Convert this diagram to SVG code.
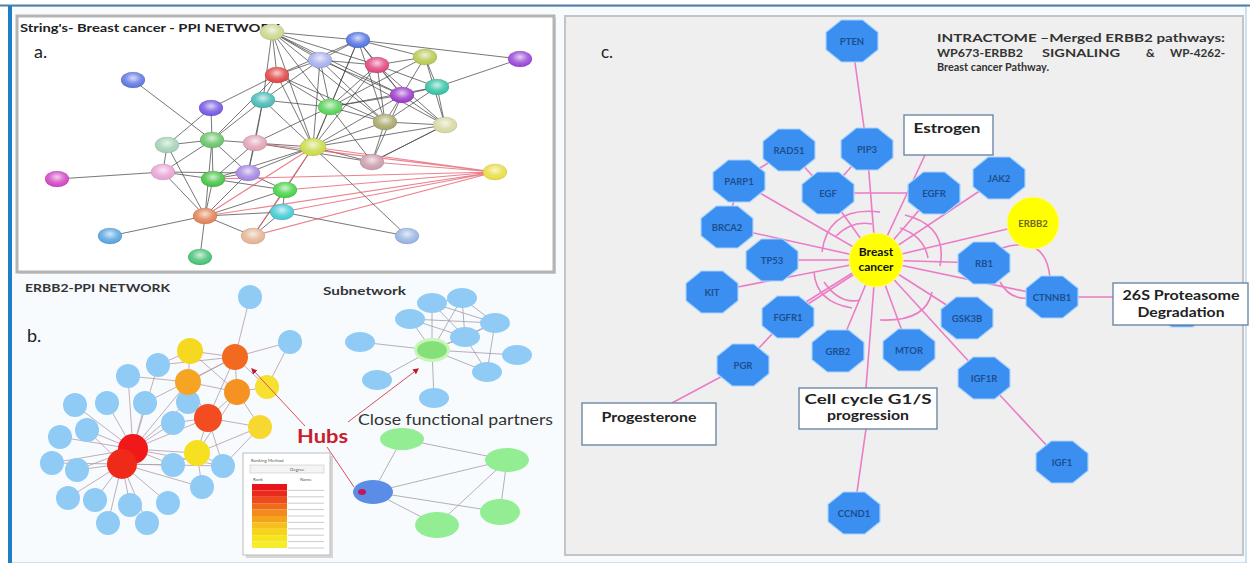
<svg xmlns="http://www.w3.org/2000/svg" xmlns:xlink="http://www.w3.org/1999/xlink" width="1250" height="563" viewBox="0 0 1250 563">
<style>
.t{font-family:Lato,"Open Sans","Liberation Sans",sans-serif}
.sn ellipse.c{stroke:#000;stroke-opacity:.15;stroke-width:.6}
.gl{fill:url(#gloss)}
.ge{stroke:#4a4a4a;stroke-width:1;stroke-opacity:.75;fill:none}
.re{stroke:#e45a6a;stroke-width:1.2;stroke-opacity:.75;fill:none}
.be{stroke:#b49aa4;stroke-width:.8;fill:none}
.se{stroke:#a49aa8;stroke-width:.8;fill:none}
.bn{fill:#8fcbf4}
.sb{fill:#8fcbf4}
.gn{fill:#93ee93}
.ce{stroke:#ec7cc5;stroke-width:1.6;fill:none}
.cn use{fill:#3a8ff0;stroke:#a9d4ff;stroke-width:1.2}
.cn text{font:bold 9.5px Lato,"Liberation Sans",sans-serif;fill:#1d4e8f;text-anchor:middle}
.yb{fill:#ffff00;stroke:#fff7a0;stroke-width:1}
.box{fill:#fff;stroke:#60809f;stroke-width:1.3}
.bt{font:bold 13px Lato,"Liberation Sans",sans-serif;fill:#222;text-anchor:middle}
.arr{stroke:#d9505a;stroke-width:1;fill:none}
.ti{font:bold 12px Lato,"Liberation Sans",sans-serif;fill:#333}
</style>
<defs>
<radialGradient id="gloss" cx="50%" cy="38%" r="60%">
<stop offset="0" stop-color="#fff" stop-opacity=".75"/>
<stop offset=".55" stop-color="#fff" stop-opacity=".2"/>
<stop offset="1" stop-color="#fff" stop-opacity="0"/>
</radialGradient>
<polygon id="oct" points="-10.8,-21 10.8,-21 26,-8.7 26,8.7 10.8,21 -10.8,21 -26,8.7 -26,-8.7"/>
<marker id="ah" viewBox="0 0 10 10" refX="8" refY="5" markerWidth="6" markerHeight="6" orient="auto">
<path d="M0,0 L10,5 L0,10 z" fill="#c0182a"/>
</marker>
</defs>

<!-- page frame -->
<rect x="0" y="0" width="1250" height="563" fill="#fff"/>
<rect x="10" y="6" width="1236" height="557" fill="#f7fbfe" stroke="#9fc3dd" stroke-width="1"/>
<line x1="0" y1="5.5" x2="1250" y2="5.5" stroke="#4f7ea9" stroke-width="2"/>
<rect x="8" y="6" width="4" height="557" fill="#1e7fc5"/>

<!-- panel a : STRING network -->
<g id="panel-a">
<rect x="19" y="18" width="537" height="256" fill="#d8d8d8"/>
<rect x="17" y="16" width="537" height="256" fill="#fff" stroke="#b4b4b4" stroke-width="3"/>
<text class="t" x="20" y="32" font-size="12" font-weight="bold" fill="#222" textLength="260" lengthAdjust="spacingAndGlyphs">String's- Breast cancer - PPI NETWORK</text>
<text class="t" x="34" y="58" font-size="18" fill="#222">a.</text>
</g>

<g id="edges-a">
<path class="ge" d="M272,32L358,40M272,32L320,60M272,32L277,75M272,32L377,65M272,32L402,95M272,32L330,107M272,32L385,122M272,32L263,100M272,32L313,147M272,32L445,125
M358,40L320,60M358,40L377,65M358,40L425,57M358,40L277,75M358,40L330,107M358,40L385,122M358,40L313,147M358,40L402,95M358,40L520,59
M320,60L377,65M320,60L277,75M320,60L330,107M320,60L385,122M320,60L313,147M320,60L263,100M320,60L402,95
M377,65L425,57M377,65L437,87M377,65L402,95M377,65L330,107M377,65L385,122M377,65L445,125M377,65L313,147
M425,57L437,87M425,57L402,95M425,57L445,125M425,57L330,107M520,59L437,87
M277,75L330,107M277,75L263,100M277,75L313,147M277,75L385,122M277,75L212,140M277,75L211,108
M437,87L402,95M437,87L445,125M437,87L385,122M437,87L330,107
M402,95L330,107M402,95L385,122M402,95L445,125M402,95L313,147M402,95L372,162
M330,107L385,122M330,107L313,147M330,107L263,100M330,107L372,162M330,107L255,143
M385,122L445,125M385,122L313,147M385,122L372,162M445,125L313,147M445,125L372,162
M133,80L212,140M211,108L167,145M211,108L212,140
M263,100L212,140M263,100L255,143M263,100L313,147M263,100L248,173
M167,145L212,140M167,145L163,172M167,145L205,216M212,140L255,143M212,140L213,179M212,140L163,172M212,140L205,216M212,140L248,173
M255,143L313,147M255,143L248,173M255,143L213,179M255,143L372,162M57,179L163,172
M163,172L213,179M163,172L205,216M163,172L248,173M213,179L248,173M213,179L205,216M213,179L285,190M213,179L313,147
M248,173L285,190M248,173L313,147M248,173L205,216M285,190L205,216M285,190L282,212M285,190L313,147
M205,216L282,212M205,216L253,236M205,216L110,236M205,216L200,257M282,212L253,236M282,212L407,236M253,236L285,190
M313,147L372,162M313,147L407,236M445,125L372,162"/>
<path class="re" d="M495,172L313,147M495,172L316,150M495,172L372,162M495,172L285,190M495,172L282,212M495,172L253,236M495,172L205,216M495,172L213,179M495,172L255,143M313,147L205,216M313,147L253,236"/>
</g>

<g id="nodes-a" class="sn">
<g id="a01"><ellipse class="c" cx="272" cy="32" rx="12" ry="8" fill="#c7d68a"/><ellipse class="gl" cx="272" cy="32" rx="12" ry="8"/></g>
<g id="a02"><ellipse class="c" cx="358" cy="40" rx="12" ry="8" fill="#4f6fe0"/><ellipse class="gl" cx="358" cy="40" rx="12" ry="8"/></g>
<g id="a03"><ellipse class="c" cx="320" cy="60" rx="12" ry="8" fill="#a4acec"/><ellipse class="gl" cx="320" cy="60" rx="12" ry="8"/></g>
<g id="a04"><ellipse class="c" cx="377" cy="65" rx="12" ry="8" fill="#e0407e"/><ellipse class="gl" cx="377" cy="65" rx="12" ry="8"/></g>
<g id="a05"><ellipse class="c" cx="425" cy="57" rx="12" ry="8" fill="#b6c84c"/><ellipse class="gl" cx="425" cy="57" rx="12" ry="8"/></g>
<g id="a06"><ellipse class="c" cx="520" cy="59" rx="12" ry="8" fill="#9442d6"/><ellipse class="gl" cx="520" cy="59" rx="12" ry="8"/></g>
<g id="a07"><ellipse class="c" cx="277" cy="75" rx="12" ry="8" fill="#e04040"/><ellipse class="gl" cx="277" cy="75" rx="12" ry="8"/></g>
<g id="a08"><ellipse class="c" cx="437" cy="87" rx="12" ry="8" fill="#2fc0a0"/><ellipse class="gl" cx="437" cy="87" rx="12" ry="8"/></g>
<g id="a09"><ellipse class="c" cx="402" cy="95" rx="12" ry="8" fill="#9a34c8"/><ellipse class="gl" cx="402" cy="95" rx="12" ry="8"/></g>
<g id="a10"><ellipse class="c" cx="330" cy="107" rx="12" ry="8" fill="#52d052"/><ellipse class="gl" cx="330" cy="107" rx="12" ry="8"/></g>
<g id="a11"><ellipse class="c" cx="385" cy="122" rx="12" ry="8" fill="#a6a466"/><ellipse class="gl" cx="385" cy="122" rx="12" ry="8"/></g>
<g id="a12"><ellipse class="c" cx="445" cy="125" rx="12" ry="8" fill="#d6d6a0"/><ellipse class="gl" cx="445" cy="125" rx="12" ry="8"/></g>
<g id="a13"><ellipse class="c" cx="133" cy="80" rx="12" ry="8" fill="#5a72e0"/><ellipse class="gl" cx="133" cy="80" rx="12" ry="8"/></g>
<g id="a14"><ellipse class="c" cx="211" cy="108" rx="12" ry="8" fill="#7052e2"/><ellipse class="gl" cx="211" cy="108" rx="12" ry="8"/></g>
<g id="a15"><ellipse class="c" cx="263" cy="100" rx="12" ry="8" fill="#3fb8b0"/><ellipse class="gl" cx="263" cy="100" rx="12" ry="8"/></g>
<g id="a16"><ellipse class="c" cx="167" cy="145" rx="12" ry="8" fill="#9fd0b2"/><ellipse class="gl" cx="167" cy="145" rx="12" ry="8"/></g>
<g id="a17"><ellipse class="c" cx="212" cy="140" rx="12" ry="8" fill="#62c262"/><ellipse class="gl" cx="212" cy="140" rx="12" ry="8"/></g>
<g id="a18"><ellipse class="c" cx="255" cy="143" rx="12" ry="8" fill="#e0a0b2"/><ellipse class="gl" cx="255" cy="143" rx="12" ry="8"/></g>
<g id="a19"><ellipse class="c" cx="57" cy="179" rx="12" ry="8" fill="#d040c0"/><ellipse class="gl" cx="57" cy="179" rx="12" ry="8"/></g>
<g id="a20"><ellipse class="c" cx="163" cy="172" rx="12" ry="8" fill="#e8a0d4"/><ellipse class="gl" cx="163" cy="172" rx="12" ry="8"/></g>
<g id="a21"><ellipse class="c" cx="213" cy="179" rx="12" ry="8" fill="#40c040"/><ellipse class="gl" cx="213" cy="179" rx="12" ry="8"/></g>
<g id="a22"><ellipse class="c" cx="248" cy="173" rx="12" ry="8" fill="#a282e2"/><ellipse class="gl" cx="248" cy="173" rx="12" ry="8"/></g>
<g id="a23"><ellipse class="c" cx="285" cy="190" rx="12" ry="8" fill="#40d040"/><ellipse class="gl" cx="285" cy="190" rx="12" ry="8"/></g>
<g id="a24"><ellipse class="c" cx="205" cy="216" rx="12" ry="8" fill="#e07e50"/><ellipse class="gl" cx="205" cy="216" rx="12" ry="8"/></g>
<g id="a25"><ellipse class="c" cx="282" cy="212" rx="12" ry="8" fill="#40c8d4"/><ellipse class="gl" cx="282" cy="212" rx="12" ry="8"/></g>
<g id="a26"><ellipse class="c" cx="253" cy="236" rx="12" ry="8" fill="#e2b290"/><ellipse class="gl" cx="253" cy="236" rx="12" ry="8"/></g>
<g id="a27"><ellipse class="c" cx="110" cy="236" rx="12" ry="8" fill="#52a2e0"/><ellipse class="gl" cx="110" cy="236" rx="12" ry="8"/></g>
<g id="a28"><ellipse class="c" cx="200" cy="257" rx="12" ry="8" fill="#40c070"/><ellipse class="gl" cx="200" cy="257" rx="12" ry="8"/></g>
<g id="a29"><ellipse class="c" cx="313" cy="147" rx="13" ry="9" fill="#c8d840"/><ellipse class="gl" cx="313" cy="147" rx="13" ry="9"/></g>
<g id="a30"><ellipse class="c" cx="372" cy="162" rx="12" ry="8" fill="#c89aa8"/><ellipse class="gl" cx="372" cy="162" rx="12" ry="8"/></g>
<g id="a31"><ellipse class="c" cx="495" cy="172" rx="12" ry="8" fill="#e8dc3c"/><ellipse class="gl" cx="495" cy="172" rx="12" ry="8"/></g>
<g id="a32"><ellipse class="c" cx="407" cy="236" rx="12" ry="8" fill="#94b2e0"/><ellipse class="gl" cx="407" cy="236" rx="12" ry="8"/></g>
</g>

<!-- panel b : ERBB2 PPI network and subnetworks -->
<g id="panel-b-text">
<text class="t" x="25" y="292" font-size="11" font-weight="bold" fill="#333" textLength="145" lengthAdjust="spacingAndGlyphs">ERBB2-PPI NETWORK</text>
<text class="t" x="27" y="342" font-size="18" fill="#222">b.</text>
<text class="t" x="323" y="295" font-size="11" font-weight="bold" fill="#333" textLength="83" lengthAdjust="spacingAndGlyphs">Subnetwork</text>
<text class="t" x="358" y="425" font-size="15" fill="#333" textLength="195" lengthAdjust="spacingAndGlyphs">Close functional partners</text>
<text class="t" x="297" y="443" font-size="19" font-weight="bold" fill="#c8202a" textLength="51" lengthAdjust="spacingAndGlyphs">Hubs</text>
</g>

<g id="edges-b">
<path class="be" d="M133,449L158,365M133,449L128,376M133,449L75,405M133,449L107,403M133,449L145,403M133,449L188,402M133,449L173,423M133,449L87,430M133,449L60,437M133,449L52,463M133,449L77,470M133,449L173,465M133,449L223,466M133,449L197,453M133,449L208,418
M122,464L68,498M122,464L95,500M122,464L130,505M122,464L168,503M122,464L108,523M122,464L147,523M122,464L77,470M122,464L173,465M122,464L202,487M122,464L52,463M122,464L87,430M122,464L223,466
M235,357L250,297M235,357L290,342M235,357L190,351M235,357L188,382M235,357L237,392M235,357L267,387M235,357L158,365M235,357L208,418M235,357L145,403
M190,351L158,365M190,351L188,382M190,351L237,392M188,382L237,392M188,382L128,376M188,382L208,418M188,382L133,449
M237,392L267,387M237,392L208,418M237,392L260,427M237,392L197,453M267,387L290,342M208,418L260,427M208,418L197,453M208,418L173,423M208,418L223,466
M260,427L197,453M197,453L223,466M197,453L202,487M197,453L173,465M260,427L223,466"/>
<path class="se" d="M432,350L432,303M432,350L462,298M432,350L410,319M432,350L495,323M432,350L465,337M432,350L360,342M432,350L517,355M432,350L487,372M432,350L377,380M432,350L434,398
M432,303L462,298M432,303L495,323M462,298L495,323M462,298L465,337M410,319L495,323M465,337L495,323M495,323L487,372M465,337L487,372M432,303L465,337M410,319L465,337"/>
<path class="se" d="M373,492L402,439M373,492L507,460M373,492L500,512M373,492L437,525M402,439L507,460M507,460L437,525M507,460L500,512"/>
</g>

<g id="nodes-b">
<g id="b01"><circle class="bn" cx="250" cy="297" r="12"/></g>
<g id="b02"><circle class="bn" cx="158" cy="365" r="12"/></g>
<g id="b03"><circle class="bn" cx="128" cy="376" r="12"/></g>
<g id="b04"><circle class="bn" cx="75" cy="405" r="12"/></g>
<g id="b05"><circle class="bn" cx="107" cy="403" r="12"/></g>
<g id="b06"><circle class="bn" cx="145" cy="403" r="12"/></g>
<g id="b07"><circle class="bn" cx="188" cy="402" r="12"/></g>
<g id="b08"><circle class="bn" cx="173" cy="423" r="12"/></g>
<g id="b09"><circle class="bn" cx="87" cy="430" r="12"/></g>
<g id="b10"><circle class="bn" cx="60" cy="437" r="12"/></g>
<g id="b11"><circle class="bn" cx="52" cy="463" r="12"/></g>
<g id="b12"><circle class="bn" cx="77" cy="470" r="12"/></g>
<g id="b13"><circle class="bn" cx="173" cy="465" r="12"/></g>
<g id="b14"><circle class="bn" cx="223" cy="466" r="12"/></g>
<g id="b15"><circle class="bn" cx="202" cy="487" r="12"/></g>
<g id="b16"><circle class="bn" cx="68" cy="498" r="12"/></g>
<g id="b17"><circle class="bn" cx="95" cy="500" r="12"/></g>
<g id="b18"><circle class="bn" cx="130" cy="505" r="12"/></g>
<g id="b19"><circle class="bn" cx="168" cy="503" r="12"/></g>
<g id="b20"><circle class="bn" cx="108" cy="523" r="12"/></g>
<g id="b21"><circle class="bn" cx="147" cy="523" r="12"/></g>
<g id="b22"><circle class="bn" cx="290" cy="342" r="12"/></g>
<g id="h01"><circle cx="190" cy="351" r="13" fill="#f6d820"/></g>
<g id="h02"><circle cx="235" cy="357" r="13" fill="#f26a20"/></g>
<g id="h03"><circle cx="188" cy="382" r="13" fill="#f5a424"/></g>
<g id="h04"><circle cx="237" cy="392" r="13" fill="#f59222"/></g>
<g id="h05"><circle cx="267" cy="387" r="12" fill="#f6e030"/></g>
<g id="h06"><circle cx="208" cy="418" r="14" fill="#f24c20"/></g>
<g id="h07"><circle cx="260" cy="427" r="12" fill="#f6d830"/></g>
<g id="h08"><circle cx="197" cy="453" r="13" fill="#f6e020"/></g>
<g id="h09"><circle cx="133" cy="449" r="15" fill="#f01818"/></g>
<g id="h10"><circle cx="122" cy="464" r="15" fill="#f02a18"/></g>

<g id="s00"><ellipse cx="432" cy="350" rx="18" ry="12" fill="#c8f5b8"/><ellipse cx="432" cy="350" rx="15" ry="9" fill="#86e07a"/></g>
<g id="s01"><ellipse class="sb" cx="432" cy="303" rx="15" ry="10"/></g>
<g id="s02"><ellipse class="sb" cx="462" cy="298" rx="15" ry="10"/></g>
<g id="s03"><ellipse class="sb" cx="410" cy="319" rx="15" ry="10"/></g>
<g id="s04"><ellipse class="sb" cx="495" cy="323" rx="15" ry="10"/></g>
<g id="s05"><ellipse class="sb" cx="465" cy="337" rx="15" ry="10"/></g>
<g id="s06"><ellipse class="sb" cx="360" cy="342" rx="15" ry="10"/></g>
<g id="s07"><ellipse class="sb" cx="517" cy="355" rx="15" ry="10"/></g>
<g id="s08"><ellipse class="sb" cx="487" cy="372" rx="15" ry="10"/></g>
<g id="s09"><ellipse class="sb" cx="377" cy="380" rx="15" ry="10"/></g>
<g id="s10"><ellipse class="sb" cx="434" cy="398" rx="15" ry="10"/></g>

<g id="p00"><ellipse cx="373" cy="492" rx="20" ry="12" fill="#5b8de6"/><ellipse cx="362" cy="492" rx="4" ry="3" fill="#c0185a"/></g>
<g id="p01"><ellipse class="gn" cx="402" cy="439" rx="22" ry="11"/></g>
<g id="p02"><ellipse class="gn" cx="507" cy="460" rx="22" ry="12"/></g>
<g id="p03"><ellipse class="gn" cx="500" cy="512" rx="20" ry="13"/></g>
<g id="p04"><ellipse class="gn" cx="437" cy="525" rx="22" ry="13"/></g>
</g>

<g id="hub-pointers">
<path class="arr" d="M305,426L252,369" marker-end="url(#ah)"/>
<path class="arr" d="M348,422L418,369" marker-end="url(#ah)"/>
<path class="arr" d="M327,447L354,487"/>
</g>

<!-- ranking legend -->
<g id="legend">
<rect x="246" y="456" width="87" height="102" fill="#d6d6d6"/>
<rect x="243" y="453" width="87" height="102" fill="#fff" stroke="#bcbcbc" stroke-width="1"/>
<text class="t" x="251" y="462" font-size="4.5" fill="#555">Ranking Method</text>
<rect x="250" y="465" width="74" height="8" fill="#f4f4f4" stroke="#bbb" stroke-width=".5"/>
<text class="t" x="290" y="471" font-size="4.5" fill="#555">Degree</text>
<text class="t" x="253" y="481" font-size="4.5" fill="#555">Rank</text>
<text class="t" x="300" y="481" font-size="4.5" fill="#555">Name</text>
<rect x="252" y="484" width="35" height="6.4" fill="#e8141c"/>
<rect x="252" y="490.4" width="35" height="6.4" fill="#ea2a1c"/>
<rect x="252" y="496.8" width="35" height="6.4" fill="#ee4a1c"/>
<rect x="252" y="503.2" width="35" height="6.4" fill="#f06a1c"/>
<rect x="252" y="509.6" width="35" height="6.4" fill="#f28a1c"/>
<rect x="252" y="516" width="35" height="6.4" fill="#f4a41c"/>
<rect x="252" y="522.4" width="35" height="6.4" fill="#f6c01c"/>
<rect x="252" y="528.8" width="35" height="6.4" fill="#f6d41c"/>
<rect x="252" y="535.2" width="35" height="6.4" fill="#f6e41c"/>
<rect x="252" y="541.6" width="35" height="6.4" fill="#f6ec2c"/>
<path d="M288,490.4H324M288,496.8H324M288,503.2H324M288,509.6H324M288,516H324M288,522.4H324M288,528.8H324M288,535.2H324M288,541.6H324M288,548H324" stroke="#999" stroke-width=".5"/>
</g>

<!-- panel c : merged ERBB2 pathway network -->
<g id="panel-c">
<rect x="565" y="16" width="678" height="539" fill="#efefef" stroke="#c4c4c4" stroke-width="2"/>
<text class="t" x="601" y="58" font-size="17" fill="#222">c.</text>
<text class="ti" x="937" y="42" textLength="288" lengthAdjust="spacingAndGlyphs">INTRACTOME –Merged ERBB2 pathways:</text>
<text class="ti" y="57"><tspan x="937" textLength="86" lengthAdjust="spacingAndGlyphs">WP673-ERBB2</tspan><tspan x="1042" textLength="78" lengthAdjust="spacingAndGlyphs">SIGNALING</tspan><tspan x="1146">&amp;</tspan><tspan x="1170" textLength="55" lengthAdjust="spacingAndGlyphs">WP-4262-</tspan></text>
<text class="ti" x="937" y="71" textLength="112" lengthAdjust="spacingAndGlyphs">Breast cancer Pathway.</text>
</g>

<g id="edges-c">
<path class="ce" d="M852,41L867,149M867,149L876,260M867,149L828,193M789,150L828,193M739,181L789,150M739,181L876,260M727,227L739,181M727,227L876,260M772,260L876,260M712,292L876,260M788,317L876,260M790,312L870,262M788,317L743,365M743,365L672,403
M828,193L876,260M828,193L934,193M925,155L876,260M934,193L876,260M999,178L876,260M1033,223L876,260M984,263L876,260M1052,297L876,260M1052,297L1113,297M967,318L876,260M909,350L876,260M984,378L876,260M984,378L1062,462M838,351L876,260M874,285L866,388M866,429L854,513"/>
<path class="ce" d="M822,252Q828,206 880,212M905,215Q948,226 940,266M932,292Q926,322 880,320M852,308Q816,302 814,272M836,236Q852,220 872,224M900,228Q924,236 928,258M1002,248Q1046,234 1050,278M1000,282Q1010,300 1028,298M824,282Q840,305 860,300"/>
</g>

<g id="nodes-c">
<g id="n-26s-hidden" class="cn"><use href="#oct" x="1182" y="306"/></g>
<g id="n-pten" class="cn"><use href="#oct" x="852" y="41"/><text x="852" y="44.5">PTEN</text></g>
<g id="n-rad51" class="cn"><use href="#oct" x="789" y="150"/><text x="789" y="153.5">RAD51</text></g>
<g id="n-pip3" class="cn"><use href="#oct" x="867" y="149"/><text x="867" y="152.5">PIP3</text></g>
<g id="n-parp1" class="cn"><use href="#oct" x="739" y="181"/><text x="739" y="184.5">PARP1</text></g>
<g id="n-egf" class="cn"><use href="#oct" x="828" y="193"/><text x="828" y="196.5">EGF</text></g>
<g id="n-egfr" class="cn"><use href="#oct" x="934" y="193"/><text x="934" y="196.5">EGFR</text></g>
<g id="n-jak2" class="cn"><use href="#oct" x="999" y="178"/><text x="999" y="181.5">JAK2</text></g>
<g id="n-brca2" class="cn"><use href="#oct" x="727" y="227"/><text x="727" y="230.5">BRCA2</text></g>
<g id="n-tp53" class="cn"><use href="#oct" x="772" y="260"/><text x="772" y="263.5">TP53</text></g>
<g id="n-rb1" class="cn"><use href="#oct" x="984" y="263"/><text x="984" y="266.5">RB1</text></g>
<g id="n-kit" class="cn"><use href="#oct" x="712" y="292"/><text x="712" y="295.5">KIT</text></g>
<g id="n-fgfr1" class="cn"><use href="#oct" x="788" y="317"/><text x="788" y="320.5">FGFR1</text></g>
<g id="n-ctnnb1" class="cn"><use href="#oct" x="1052" y="297"/><text x="1052" y="300.5">CTNNB1</text></g>
<g id="n-gsk3b" class="cn"><use href="#oct" x="967" y="318"/><text x="967" y="321.5">GSK3B</text></g>
<g id="n-grb2" class="cn"><use href="#oct" x="838" y="351"/><text x="838" y="354.5">GRB2</text></g>
<g id="n-mtor" class="cn"><use href="#oct" x="909" y="350"/><text x="909" y="353.5">MTOR</text></g>
<g id="n-pgr" class="cn"><use href="#oct" x="743" y="365"/><text x="743" y="368.5">PGR</text></g>
<g id="n-igf1r" class="cn"><use href="#oct" x="984" y="378"/><text x="984" y="381.5">IGF1R</text></g>
<g id="n-igf1" class="cn"><use href="#oct" x="1062" y="462"/><text x="1062" y="465.5">IGF1</text></g>
<g id="n-ccnd1" class="cn"><use href="#oct" x="854" y="513"/><text x="854" y="516.5">CCND1</text></g>
<g id="n-erbb2"><circle class="yb" cx="1033" cy="223" r="26"/><text x="1033" y="226.5" class="t" font-size="9.5" font-weight="bold" fill="#6a6a20" text-anchor="middle">ERBB2</text></g>
<g id="n-breast-cancer"><circle class="yb" cx="876" cy="260" r="27"/><text class="t" x="876" y="256" font-size="12" font-weight="bold" fill="#111" text-anchor="middle">Breast</text><text class="t" x="876" y="271" font-size="12" font-weight="bold" fill="#111" text-anchor="middle">cancer</text></g>
<g id="n-estrogen"><rect class="box" x="904" y="115" width="89" height="40"/><text class="bt" x="947" y="133" textLength="67" lengthAdjust="spacingAndGlyphs">Estrogen</text></g>
<g id="n-progesterone"><rect class="box" x="582" y="403" width="134" height="42"/><text class="bt" x="649" y="422" textLength="95" lengthAdjust="spacingAndGlyphs">Progesterone</text></g>
<g id="n-cellcycle"><rect class="box" x="799" y="388" width="138" height="41"/><text class="bt" x="868" y="404" textLength="127" lengthAdjust="spacingAndGlyphs">Cell cycle G1/S</text><text class="bt" x="868" y="420" textLength="82" lengthAdjust="spacingAndGlyphs">progression</text></g>
<g id="n-proteasome"><rect class="box" x="1113" y="283" width="135" height="42"/><text class="bt" x="1181" y="300" textLength="117" lengthAdjust="spacingAndGlyphs">26S Proteasome</text><text class="bt" x="1181" y="317" textLength="87" lengthAdjust="spacingAndGlyphs">Degradation</text></g>
</g>
</svg>
